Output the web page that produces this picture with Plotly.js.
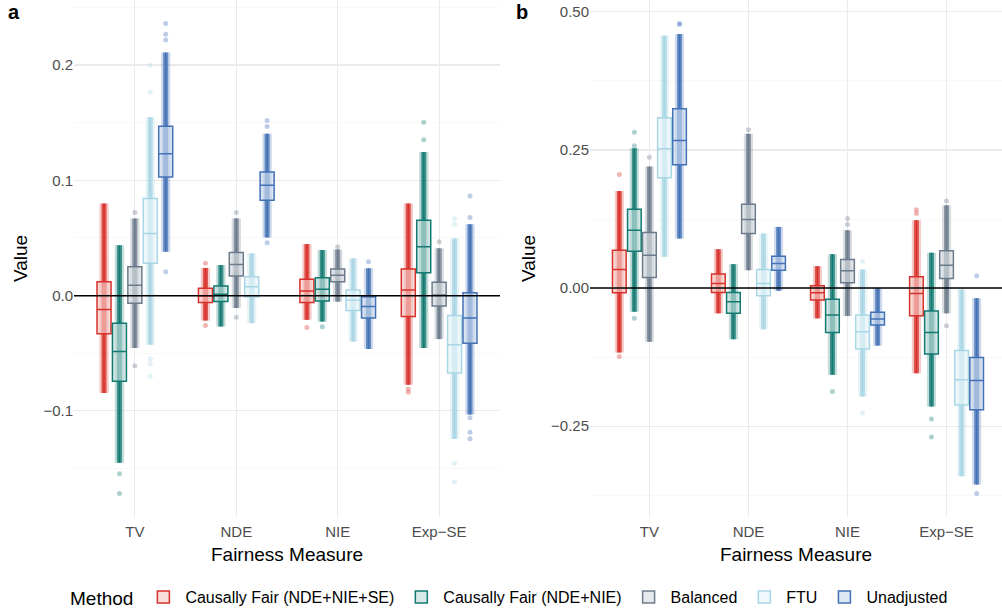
<!DOCTYPE html>
<html>
<head>
<meta charset="utf-8">
<script src="https://cdn.plot.ly/plotly-3.0.1.min.js"></script>
<style>html,body{margin:0;padding:0;background:#fff;}#chart{width:1002px;height:615px;}</style>
</head>
<body>
<div id="chart"></div>
<script>
// ---------- data ----------
const categories = ['TV', 'NDE', 'NIE', 'Exp\u2212SE'];
const methods = ['Causally Fair (NDE+NIE+SE)', 'Causally Fair (NDE+NIE)', 'Balanced', 'FTU', 'Unadjusted'];
const colors = ['#D8302A', '#137A72', '#6C7B8B', '#A9D6E5', '#4271B6'];
const fills = ['rgba(246,200,196,0.62)', 'rgba(190,220,216,0.62)', 'rgba(214,219,225,0.62)', 'rgba(232,245,250,0.62)', 'rgba(200,214,236,0.62)'];

// Panel a: rows = methods, columns = categories
const aLow = [[-0.0844, -0.0216, -0.0210, -0.0772], [-0.1449, -0.0268, -0.0225, -0.0455], [-0.0455, -0.0108, -0.0052, -0.0377], [-0.0426, -0.0239, -0.0398, -0.1241], [0.0380, 0.0505, -0.0463, -0.1031]];
const aQ1 = [[-0.0331, -0.0060, -0.0060, -0.0181], [-0.0743, -0.0052, -0.0046, 0.0199], [-0.0066, 0.0170, 0.0121, -0.0089], [0.0280, -0.0010, -0.0130, -0.0671], [0.1029, 0.0827, -0.0195, -0.0412]];
const aMed = [[-0.0120, 0.0000, 0.0040, 0.0049], [-0.0484, 0.0012, 0.0055, 0.0424], [0.0090, 0.0270, 0.0176, 0.0006], [0.0539, 0.0078, -0.0037, -0.0426], [0.1231, 0.0957, -0.0095, -0.0195]];
const aQ3 = [[0.0121, 0.0064, 0.0142, 0.0231], [-0.0239, 0.0084, 0.0156, 0.0654], [0.0251, 0.0375, 0.0231, 0.0116], [0.0842, 0.0164, 0.0049, -0.0173], [0.1469, 0.1072, -0.0009, 0.0026]];
const aHigh = [[0.0799, 0.0240, 0.0447, 0.0799], [0.0438, 0.0265, 0.0395, 0.1245], [0.0669, 0.0670, 0.0400, 0.0410], [0.1547, 0.0366, 0.0323, 0.0496], [0.2109, 0.1404, 0.0237, 0.0620]];
const aOut = [
  [[], [0.028, -0.026], [-0.0277], [-0.081, -0.0838]],
  [[-0.1544, -0.1717], [], [-0.027], [0.1352, 0.1504]],
  [[0.072, -0.0608], [0.072, -0.0187], [0.0424], [0.0467]],
  [[0.1763, 0.200, -0.0547, -0.059, -0.070], [], [], [0.062, 0.0669, -0.1455, -0.1616]],
  [[0.2216, 0.2268, 0.236, 0.0207], [0.1467, 0.1519, 0.0458], [0.0294], [0.0678, 0.0864, -0.106, -0.1184, -0.1241]]
];

// Panel b
const bLow = [[-0.1167, -0.0457, -0.0548, -0.1540], [-0.0427, -0.0926, -0.1570, -0.2142], [-0.0969, 0.0325, -0.0505, -0.0457], [0.0565, -0.0746, -0.1962, -0.3406], [0.0897, -0.0048, -0.1041, -0.3556]];
const bQ1 = [[-0.0084, -0.0078, -0.0217, -0.0500], [0.0668, -0.0457, -0.0806, -0.1191], [0.0193, 0.0987, 0.0096, 0.0175], [0.1998, -0.0139, -0.1101, -0.2118], [0.2233, 0.0325, -0.0668, -0.2202]];
const bMed = [[0.0337, 0.0085, -0.0084, -0.0096], [0.1047, -0.0247, -0.0487, -0.0806], [0.0596, 0.1240, 0.0313, 0.0415], [0.2522, 0.0085, -0.0788, -0.1661], [0.2671, 0.0446, -0.0560, -0.1673]];
const bQ3 = [[0.0686, 0.0253, 0.0042, 0.0205], [0.1426, -0.0078, -0.0204, -0.0415], [0.1005, 0.1516, 0.0517, 0.0674], [0.3081, 0.0337, -0.0487, -0.1131], [0.3244, 0.0578, -0.0439, -0.1258]];
const bHigh = [[0.1757, 0.0704, 0.0397, 0.1227], [0.2533, 0.0433, 0.0614, 0.0638], [0.2202, 0.2792, 0.1047, 0.1498], [0.4567, 0.0987, 0.0337, -0.0024], [0.4597, 0.1107, -0.0005, -0.0186]];
const bOut = [
  [[0.2058, -0.124], [], [], [0.135, 0.142]],
  [[0.2575, 0.2822, -0.0548], [], [-0.1871], [-0.237, -0.2695]],
  [[0.237], [0.2864], [0.115, 0.1258], [0.1576, -0.068]],
  [[], [], [0.0487, -0.2262], []],
  [[0.477, 0.4789], [], [], [0.0222, -0.3718]]
];

// ---------- build ----------
const DODGE = 0.152;
const traces = [];
function addPanel(sfx, lo, q1, med, q3, hi, out, showLegend) {
  methods.forEach((m, k) => {
    const xs = categories.map((c, i) => i + (k - 2) * DODGE);
    const len = hi[k].map((h, i) => h - lo[k][i]);
    // point cloud (halo + core)
    traces.push({type: 'bar', xaxis: 'x' + sfx, yaxis: 'y' + sfx, x: xs, base: lo[k], y: len, width: 0.092,
      marker: {color: colors[k], line: {width: 0}}, opacity: 0.25, showlegend: false, hoverinfo: 'skip'});
    traces.push({type: 'bar', xaxis: 'x' + sfx, yaxis: 'y' + sfx, x: xs, base: lo[k], y: len, width: 0.05,
      marker: {color: colors[k], line: {width: 0}}, opacity: 0.75, showlegend: false, hoverinfo: 'skip'});
    // box
    traces.push({type: 'box', name: m, legendgroup: m, showlegend: showLegend, xaxis: 'x' + sfx, yaxis: 'y' + sfx,
      x: xs, q1: q1[k], median: med[k], q3: q3[k], lowerfence: lo[k], upperfence: hi[k],
      boxpoints: false, width: 0.138, whiskerwidth: 0, fillcolor: fills[k],
      line: {color: colors[k], width: 1.5}});
    // outlying points
    const ox = [], oy = [];
    out[k].forEach((arr, i) => arr.forEach(v => { ox.push(xs[i]); oy.push(v); }));
    traces.push({type: 'scatter', mode: 'markers', xaxis: 'x' + sfx, yaxis: 'y' + sfx, x: ox, y: oy,
      marker: {color: colors[k], size: 5, opacity: 0.35}, showlegend: false, hoverinfo: 'skip'});
  });
}
addPanel('', aLow, aQ1, aMed, aQ3, aHigh, aOut, true);
addPanel('2', bLow, bQ1, bMed, bQ3, bHigh, bOut, false);

const FONT = 'Liberation Sans, Arial, sans-serif';
const W = 928, H = 517;
function xax(domain, range) {
  return {domain: domain, range: range, type: 'linear', tickvals: categories.map((c, i) => i), ticktext: categories,
    showgrid: true, gridcolor: '#EBEBEB', gridwidth: 1.1, zeroline: false, showline: false, ticks: '',
    tickfont: {size: 15, color: '#4D4D4D'}, ticklabelstandoff: 4,
    title: {text: 'Fairness Measure', font: {size: 19, color: '#000'}, standoff: 8}};
}
function yax(anchor, range, dtick, fmt) {
  return {anchor: anchor, domain: [0, 1], range: range, dtick: dtick, tick0: 0, tickformat: fmt,
    showgrid: true, gridcolor: '#EBEBEB', gridwidth: 1.1, zeroline: false, showline: false, ticks: '',
    minor: {dtick: dtick / 2, tick0: 0, showgrid: true, gridcolor: '#F3F3F3', gridwidth: 0.6},
    tickfont: {size: 15, color: '#4D4D4D'},
    title: {text: 'Value', font: {size: 19, color: '#000'}, standoff: 10}};
}
const layout = {
  width: 1002, height: 615,
  margin: {l: 74, r: 0, t: 0, b: 98},
  paper_bgcolor: '#fff', plot_bgcolor: '#fff',
  font: {family: FONT, color: '#000'},
  barmode: 'overlay', boxmode: 'overlay',
  xaxis: Object.assign(xax([0, 426 / W], [-0.6, 3.6]), {anchor: 'y'}),
  yaxis: yax('x', [-0.192, 0.2564], 0.1, '.1f'),
  xaxis2: Object.assign(xax([516 / W, 1], [-0.6, 3.56]), {anchor: 'y2'}),
  yaxis2: yax('x2', [-0.4143, 0.5214], 0.25, '.2f'),
  shapes: [
    {type: 'line', xref: 'x domain', x0: 0, x1: 1, yref: 'y', y0: 0, y1: 0, layer: 'above', line: {color: '#000', width: 1.5}},
    {type: 'line', xref: 'x2 domain', x0: 0, x1: 1, yref: 'y2', y0: 0, y1: 0, layer: 'above', line: {color: '#000', width: 1.5}}
  ],
  annotations: [
    {text: '<b>a</b>', xref: 'paper', yref: 'paper', x: (7 - 74) / W, y: 1, xanchor: 'left', yanchor: 'top', showarrow: false, borderpad: 0, font: {size: 20, color: '#000'}},
    {text: '<b>b</b>', xref: 'paper', yref: 'paper', x: (515 - 74) / W, y: 1, xanchor: 'left', yanchor: 'top', showarrow: false, borderpad: 0, font: {size: 20, color: '#000'}}
  ],
  showlegend: true,
  legend: {orientation: 'h', x: (68 - 74) / W, xanchor: 'left', y: -(598 - H) / H, yanchor: 'middle', itemwidth: 34,
    title: {text: 'Method', side: 'left', font: {size: 19}}, font: {size: 16}, bgcolor: 'rgba(0,0,0,0)'}
};
Plotly.newPlot('chart', traces, layout, {displayModeBar: false, staticPlot: true});
</script>
</body>
</html>
